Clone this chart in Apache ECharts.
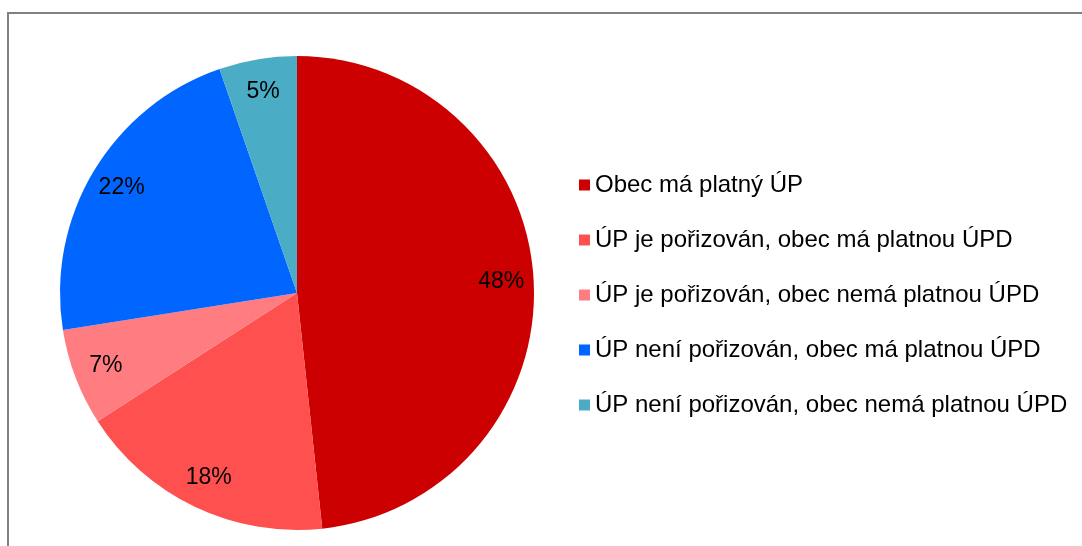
<!DOCTYPE html>
<html>
<head>
<meta charset="utf-8">
<script src="https://cdn.jsdelivr.net/npm/echarts@6/dist/echarts.min.js"></script>
<style>
  html, body { margin: 0; padding: 0; background: #fff; }
  #chart { width: 1082px; height: 546px; }
</style>
</head>
<body>
<div id="chart"></div>
<script>
// data
var categories = [
  'Obec má platný ÚP',
  'ÚP je pořizován, obec má platnou ÚPD',
  'ÚP je pořizován, obec nemá platnou ÚPD',
  'ÚP není pořizován, obec má platnou ÚPD',
  'ÚP není pořizován, obec nemá platnou ÚPD'
]
var values = [48.3, 17.6, 6.6, 22.2, 5.3]
var colors = ['#CC0000', '#FF5050', '#FF7C80', '#0066FF', '#4BACC6']

var myChart = echarts.init(document.getElementById('chart'))
var pieData = categories.map(function (name, i) {
  return {name: name, value: values[i], itemStyle: {color: colors[i]}}
})

var option = {
  animation: false,
  graphic: [{
    type: 'rect',
    shape: {x: 8, y: 13, width: 1100, height: 560},
    style: {fill: 'none', stroke: '#808080', lineWidth: 2},
    silent: true
  }],
  legend: {
    orient: 'vertical',
    left: 579,
    top: 173,
    padding: 0,
    itemWidth: 11,
    itemHeight: 11,
    itemGap: 31,
    icon: 'rect',
    data: categories,
    textStyle: {
      fontFamily: 'Liberation Sans, Arial',
      fontSize: 24,
      lineHeight: 24,
      color: '#000'
    }
  },
  series: [
    {
      name: 'pie',
      type: 'pie',
      center: [297, 293],
      radius: [0, 237],
      startAngle: 90,
      clockwise: true,
      label: {show: false},
      labelLine: {show: false},
      emphasis: {disabled: true},
      data: pieData
    },
    {
      // transparent ring only used to place the labels near the rim
      name: 'labels',
      type: 'pie',
      center: [297, 293],
      radius: [166, 237],
      startAngle: 90,
      clockwise: true,
      silent: true,
      legendHoverLink: false,
      itemStyle: {color: 'rgba(0,0,0,0)'},
      label: {
        show: true,
        position: 'inside',
        fontFamily: 'Liberation Sans, Arial',
        fontSize: 23,
        color: '#000',
        formatter: function (p) {
          return Math.round(p.value) + '%'
        }
      },
      labelLine: {show: false},
      data: categories.map(function (name, i) {
        return {name: name, value: values[i]}
      })
    }
  ]
}
myChart.setOption(option)
</script>
</body>
</html>
